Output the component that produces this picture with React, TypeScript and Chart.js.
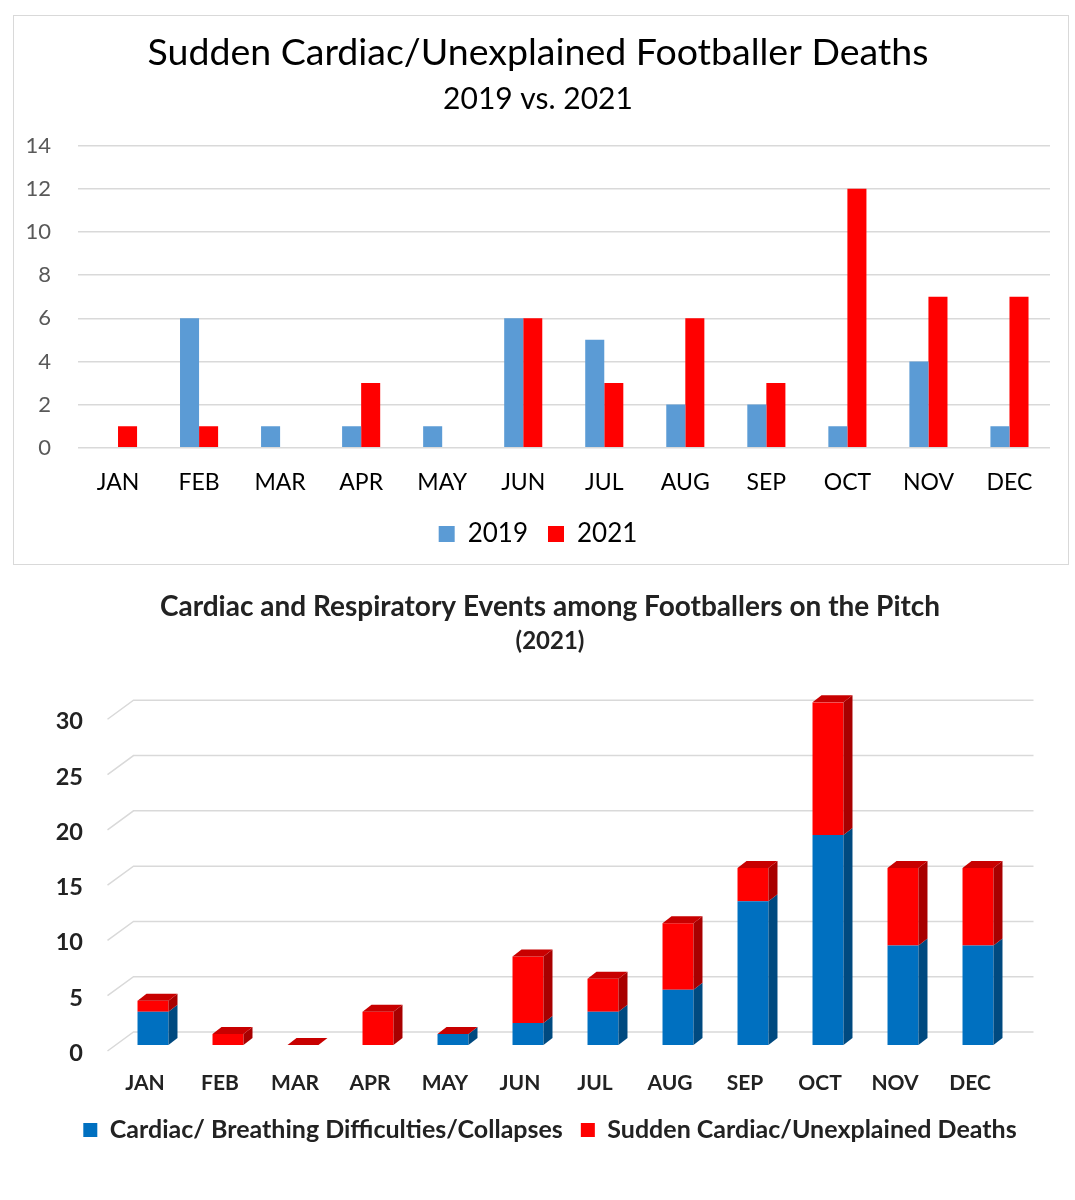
import React, { useEffect, useRef } from "react";
import { Chart, registerables } from "chart.js";

Chart.register(...registerables);

const FONT = "Lato, 'Open Sans', sans-serif";

// ---------- Data ----------
const MONTHS = ["JAN", "FEB", "MAR", "APR", "MAY", "JUN", "JUL", "AUG", "SEP", "OCT", "NOV", "DEC"];

const TOP_TITLE = "Sudden Cardiac/Unexplained Footballer Deaths";
const TOP_SUBTITLE = "2019 vs. 2021";
const TOP_SERIES_NAMES = ["2019", "2021"];
const DEATHS_2019 = [0, 6, 1, 1, 1, 6, 5, 2, 2, 1, 4, 1];
const DEATHS_2021 = [1, 1, 0, 3, 0, 6, 3, 6, 3, 12, 7, 7];

const BOTTOM_TITLE = "Cardiac and Respiratory Events among Footballers on the Pitch";
const BOTTOM_SUBTITLE = "(2021)";
const BOTTOM_SERIES_NAMES = ["Cardiac/ Breathing Difficulties/Collapses", "Sudden Cardiac/Unexplained Deaths"];
const EVENTS_CARDIAC = [3, 0, 0, 0, 1, 2, 3, 5, 13, 19, 9, 9];
const EVENTS_DEATHS = [1, 1, 0, 3, 0, 6, 3, 6, 3, 12, 7, 7];

// ---------- Styles ----------
const BLUE_LIGHT = "#5B9BD5";
const RED = "#FF0000";
const BLUE = "#0070C0";
const BLUE_SIDE = "#004A80";
const RED_SIDE = "#A80000";
const RED_TOP = "#C80000";
const GRID = "#d9d9d9";

const DX = 9; // 3D depth horizontal
const DY = 7; // 3D depth vertical

function TopChart() {
  const ref = useRef<HTMLCanvasElement>(null);
  useEffect(() => {
    const chart = new Chart(ref.current!, {
      type: "bar",
      data: {
        labels: MONTHS,
        datasets: [
          { label: TOP_SERIES_NAMES[0], data: DEATHS_2019, backgroundColor: BLUE_LIGHT, categoryPercentage: 0.47, barPercentage: 1 },
          { label: TOP_SERIES_NAMES[1], data: DEATHS_2021, backgroundColor: RED, categoryPercentage: 0.47, barPercentage: 1 },
        ],
      },
      options: {
        animation: false,
        responsive: false,
        devicePixelRatio: 1,
        layout: { padding: { left: 12, right: 18, top: 0, bottom: 7 } },
        plugins: {
          title: {
            display: true,
            text: TOP_TITLE,
            color: "#000",
            font: { family: FONT, size: 37.5, weight: "normal" },
            padding: { top: 14.5, bottom: 0 },
          },
          subtitle: {
            display: true,
            text: TOP_SUBTITLE,
            color: "#000",
            font: { family: FONT, size: 30, weight: "normal" },
            padding: { top: 5.5, bottom: 28.7 },
          },
          legend: {
            position: "bottom",
            labels: { color: "#000", font: { family: FONT, size: 26 }, boxWidth: 16, boxHeight: 16, padding: 20 },
          },
          tooltip: { enabled: false },
        },
        scales: {
          x: {
            grid: { display: false, drawTicks: false },
            border: { display: false },
            ticks: { color: "#000", font: { family: FONT, size: 23 }, padding: 21 },
            afterFit: (s: any) => {
              s.height -= 16.3;
            },
          },
          y: {
            min: 0,
            max: 14,
            ticks: { stepSize: 2, color: "#595959", font: { family: FONT, size: 22 }, padding: 26.5 },
            grid: { color: GRID, lineWidth: 1.5, drawTicks: false },
            border: { display: false },
            afterFit: (s: any) => {
              s.width = 51.5;
            },
          },
        },
      },
    });
    return () => chart.destroy();
  }, []);
  return <canvas ref={ref} width={1054} height={548} style={{ position: "absolute", left: 0, top: 0 }} />;
}

const gridPlugin = {
  id: "grid3d",
  beforeDatasetsDraw(chart: any) {
    const { ctx, chartArea, scales } = chart;
    const y = scales.y;
    ctx.save();
    ctx.strokeStyle = GRID;
    ctx.lineWidth = 1.5;
    y.ticks.forEach((t: any) => {
      const py = y.getPixelForValue(t.value);
      const backY = py - 13;
      const frontY = py + 6;
      ctx.beginPath();
      ctx.moveTo(chartArea.left - 8, frontY);
      ctx.lineTo(chartArea.left + 18, backY);
      ctx.lineTo(chartArea.right + 18, backY);
      ctx.stroke();
    });
    ctx.restore();
  },
};

const bar3dPlugin = {
  id: "bar3d",
  afterDatasetsDraw(chart: any) {
    const { ctx } = chart;
    const sides = [BLUE_SIDE, RED_SIDE];
    const metas = [chart.getDatasetMeta(0), chart.getDatasetMeta(1)];
    ctx.save();
    for (let i = 0; i < MONTHS.length; i++) {
      metas.forEach((meta: any, d: number) => {
        const el = meta.data[i];
        const { x, y, base, width } = el.getProps(["x", "y", "base", "width"], true);
        if (Math.abs(base - y) > 0.5) {
          const r = x + width / 2;
          ctx.fillStyle = sides[d];
          ctx.beginPath();
          ctx.moveTo(r, y);
          ctx.lineTo(r + DX, y - DY);
          ctx.lineTo(r + DX, base - DY);
          ctx.lineTo(r, base);
          ctx.closePath();
          ctx.fill();
        }
      });
      const top = metas[1].data[i].getProps(["x", "y", "width"], true);
      const l = top.x - top.width / 2;
      const r = top.x + top.width / 2;
      ctx.fillStyle = RED_TOP;
      ctx.beginPath();
      ctx.moveTo(l, top.y);
      ctx.lineTo(l + DX, top.y - DY);
      ctx.lineTo(r + DX, top.y - DY);
      ctx.lineTo(r, top.y);
      ctx.closePath();
      ctx.fill();
    }
    ctx.restore();
  },
};

function BottomChart() {
  const ref = useRef<HTMLCanvasElement>(null);
  useEffect(() => {
    const chart = new Chart(ref.current!, {
      type: "bar",
      data: {
        labels: MONTHS,
        datasets: [
          { label: BOTTOM_SERIES_NAMES[0], data: EVENTS_CARDIAC, backgroundColor: BLUE, categoryPercentage: 0.413, barPercentage: 1 },
          { label: BOTTOM_SERIES_NAMES[1], data: EVENTS_DEATHS, backgroundColor: RED, categoryPercentage: 0.413, barPercentage: 1 },
        ],
      },
      options: {
        animation: false,
        responsive: false,
        devicePixelRatio: 1,
        layout: { padding: { left: 50, right: 25, top: 0, bottom: 47.5 } },
        plugins: {
          title: {
            display: true,
            text: BOTTOM_TITLE,
            color: "#222",
            font: { family: FONT, size: 28, weight: "bold" },
            padding: { top: 15.2, bottom: 0 },
          },
          subtitle: {
            display: true,
            text: BOTTOM_SUBTITLE,
            color: "#222",
            font: { family: FONT, size: 24, weight: "bold" },
            padding: { top: 3, bottom: 46.6 },
          },
          legend: {
            position: "bottom",
            labels: { color: "#222", font: { family: FONT, size: 25, weight: "bold" }, boxWidth: 14, boxHeight: 14, padding: 18 },
          },
          tooltip: { enabled: false },
        },
        scales: {
          x: {
            stacked: true,
            grid: { display: false, drawTicks: false },
            border: { display: false },
            ticks: { color: "#222", font: { family: FONT, size: 21, weight: "bold" }, padding: 26, labelOffset: -8 },
            afterFit: (s: any) => {
              s.height -= 22.7;
            },
          },
          y: {
            stacked: true,
            min: 0,
            max: 31,
            ticks: {
              stepSize: 5,
              includeBounds: false,
              color: "#222",
              font: { family: FONT, size: 23.5, weight: "bold" },
              padding: 32.5,
              labelOffset: 8.5,
            },
            grid: { display: false, drawTicks: false },
            border: { display: false },
            afterFit: (s: any) => {
              s.width = 65.5;
            },
          },
          // empty spacer axis on the right so the titles/legend stay centred like the original
          spacer: {
            type: "linear",
            position: "right",
            display: true,
            grid: { display: false, drawTicks: false },
            border: { display: false },
            ticks: { display: false },
            afterFit: (s: any) => {
              s.width = 34.5;
            },
          },
        },
      },
      plugins: [gridPlugin, bar3dPlugin],
    });
    return () => chart.destroy();
  }, []);
  return <canvas ref={ref} width={1075} height={625} style={{ position: "absolute", left: 0, top: 575 }} />;
}

export default function App() {
  return (
    <div style={{ position: "absolute", left: 0, top: 0, width: 1075, height: 1200, background: "#fff", overflow: "hidden" }}>
      <div
        style={{
          position: "absolute",
          left: 13,
          top: 15,
          width: 1056,
          height: 550,
          border: `1px solid ${GRID}`,
          boxSizing: "border-box",
        }}
      >
        <TopChart />
      </div>
      <BottomChart />
    </div>
  );
}
